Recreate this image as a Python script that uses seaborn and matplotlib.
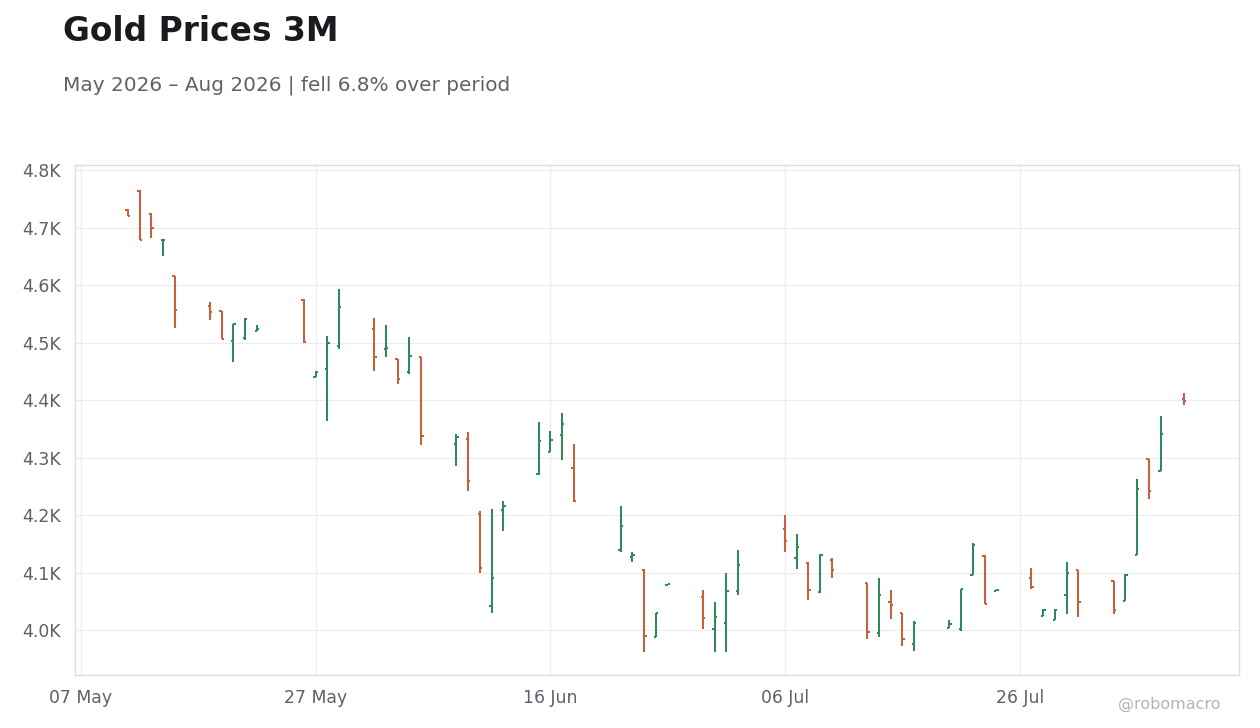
import matplotlib
matplotlib.use("Agg")
import matplotlib.pyplot as plt
import matplotlib.dates as mdates
from matplotlib.ticker import FuncFormatter
import seaborn as sns
import pandas as pd

# trading days and OHLC values
dates = [
    "2026-05-11", "2026-05-12", "2026-05-13", "2026-05-14", "2026-05-15",
    "2026-05-18", "2026-05-19", "2026-05-20", "2026-05-21", "2026-05-22",
    "2026-05-26", "2026-05-27", "2026-05-28", "2026-05-29",
    "2026-06-01", "2026-06-02", "2026-06-03", "2026-06-04", "2026-06-05",
    "2026-06-08", "2026-06-09", "2026-06-10", "2026-06-11", "2026-06-12",
    "2026-06-15", "2026-06-16", "2026-06-17", "2026-06-18",
    "2026-06-22", "2026-06-23", "2026-06-24", "2026-06-25", "2026-06-26",
    "2026-06-29", "2026-06-30", "2026-07-01", "2026-07-02",
    "2026-07-06", "2026-07-07", "2026-07-08", "2026-07-09", "2026-07-10",
    "2026-07-13", "2026-07-14", "2026-07-15", "2026-07-16", "2026-07-17",
    "2026-07-20", "2026-07-21", "2026-07-22", "2026-07-23", "2026-07-24",
    "2026-07-27", "2026-07-28", "2026-07-29", "2026-07-30", "2026-07-31",
    "2026-08-03", "2026-08-04", "2026-08-05", "2026-08-06", "2026-08-07",
    "2026-08-09",
]
opens = [
    4731, 4764, 4724, 4678, 4616,
    4564, 4554, 4503, 4508, 4520,
    4574, 4440, 4454, 4494,
    4524, 4489, 4472, 4448, 4474,
    4324, 4333, 4201, 4042, 4209,
    4272, 4310, 4340, 4281,
    4139, 4127, 4105, 3988, 4079,
    4058, 4002, 4013, 4067,
    4176, 4125, 4117, 4066, 4122,
    4081, 3995, 4049, 4030, 3975,
    4004, 4002, 4096, 4129, 4068,
    4091, 4024, 4018, 4061, 4104,
    4085, 4051, 4131, 4298, 4277,
    4401,
]
highs = [
    4732, 4766, 4725, 4679, 4616,
    4570, 4554, 4533, 4542, 4530,
    4575, 4450, 4512, 4593,
    4542, 4530, 4472, 4510, 4474,
    4341, 4344, 4207, 4210, 4224,
    4362, 4346, 4377, 4323,
    4216, 4136, 4106, 4030, 4080,
    4070, 4049, 4099, 4139,
    4200, 4167, 4119, 4132, 4125,
    4081, 4090, 4070, 4030, 4015,
    4017, 4072, 4151, 4130, 4069,
    4108, 4036, 4036, 4118, 4104,
    4085, 4097, 4263, 4298, 4372,
    4412,
]
lows = [
    4720, 4678, 4681, 4651, 4526,
    4540, 4506, 4467, 4505, 4520,
    4500, 4440, 4364, 4489,
    4451, 4475, 4428, 4446, 4321,
    4286, 4241, 4100, 4030, 4173,
    4270, 4309, 4296, 4223,
    4135, 4119, 3962, 3987, 4079,
    4002, 3962, 3962, 4061,
    4135, 4106, 4053, 4065, 4090,
    3985, 3987, 4020, 3973, 3964,
    4004, 3999, 4095, 4045, 4068,
    4072, 4024, 4017, 4028, 4022,
    4027, 4050, 4130, 4228, 4276,
    4392,
]
closes = [
    4720, 4678, 4700, 4679, 4557,
    4553, 4506, 4532, 4541, 4523,
    4501, 4449, 4500, 4562,
    4475, 4491, 4437, 4477, 4338,
    4336, 4260, 4108, 4091, 4216,
    4329, 4331, 4359, 4225,
    4181, 4130, 3990, 4030, 4080,
    4021, 4023, 4068, 4113,
    4155, 4145, 4070, 4131, 4104,
    3997, 4061, 4043, 3985, 4013,
    4011, 4072, 4147, 4045, 4069,
    4075, 4035, 4035, 4100, 4049,
    4034, 4096, 4246, 4242, 4341,
    4398,
]
tick_dates = ["2026-05-07", "2026-05-27", "2026-06-16", "2026-07-06", "2026-07-26"]
tick_labels = ["07 May", "27 May", "16 Jun", "06 Jul", "26 Jul"]

df = pd.DataFrame({"date": pd.to_datetime(dates), "open": opens, "high": highs,
                   "low": lows, "close": closes})
df["x"] = mdates.date2num(df["date"])
df["up"] = df["close"] >= df["open"]

sns.set_style("white")
plt.rcParams["font.family"] = ["DejaVu Sans"]

UP = "#2e8a57"
DOWN = "#c8603c"
TXT = "#5c606a"

fig = plt.figure(figsize=(12.6, 7.28), dpi=100)
ax = fig.add_axes([0.0595, 0.073, 0.924, 0.7005])

half = 0.2
for up, grp in df.groupby("up"):
    c = UP if up else DOWN
    ax.vlines(grp["x"], grp["low"], grp["high"], color=c, lw=1.45, zorder=3)
    ax.hlines(grp["open"], grp["x"] - half, grp["x"], color=c, lw=1.5, zorder=3)
    ax.hlines(grp["close"], grp["x"], grp["x"] + half, color=c, lw=1.5, zorder=3)

x0 = mdates.date2num(pd.Timestamp("2026-05-07"))
ax.set_xlim(x0 - 0.5, x0 + 98.7)
ax.set_ylim(3922, 4809)

ax.set_xticks(mdates.date2num(pd.to_datetime(tick_dates)))
ax.set_xticklabels(tick_labels)
ax.set_yticks([4000, 4100, 4200, 4300, 4400, 4500, 4600, 4700, 4800])
ax.yaxis.set_major_formatter(FuncFormatter(lambda v, p: f"{v/1000:.1f}K"))

ax.grid(True, color="#ececec", lw=0.8, zorder=0)
for s in ax.spines.values():
    s.set_color("#dddddd")
    s.set_linewidth(1.0)
ax.tick_params(axis="both", colors="#555555", labelcolor=TXT, labelsize=12.4,
               length=4, width=1, direction="out", pad=6)

fig.text(0.05, 0.98, "Gold Prices 3M", fontsize=23.7, fontweight="bold",
         color="#1b1b1f", va="top", ha="left")
fig.text(0.05, 0.896, "May 2026 \u2013 Aug 2026 | fell 6.8% over period",
         fontsize=14.4, color="#5f6168", va="top", ha="left")
fig.text(0.969, 0.032, "@robomacro", fontsize=11.5, color="#b4b4b4",
         ha="right", va="center")

fig.savefig("out.png", dpi=100, facecolor="white")
